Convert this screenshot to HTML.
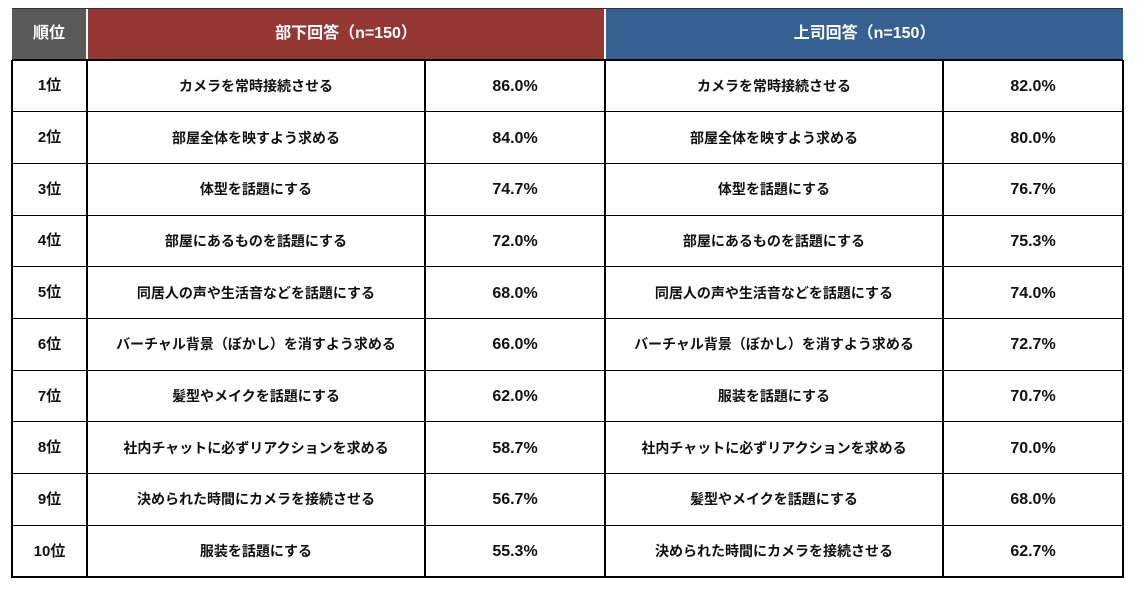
<!DOCTYPE html>
<html><head><meta charset="utf-8"><style>
body{margin:0;width:1138px;height:590px;background:#fff;font-family:"Liberation Sans","Noto Sans CJK JP",sans-serif;font-weight:bold;position:relative;overflow:hidden}
.c{position:absolute;display:flex;align-items:center;justify-content:center;color:#111;font-size:14px;box-sizing:border-box;line-height:1}
.p{font-size:16px;font-family:"Liberation Sans",sans-serif;padding-top:2px}
.r{font-size:15px}
.h{color:#fff;font-size:16px}
.v{position:absolute;background:#000;width:2px}
.hl{position:absolute;background:#000;height:1px;left:12px;width:1111px}
</style></head><body>
<div class="c h" style="left:12px;top:8px;width:74px;height:52px;background:#595959">順位</div>
<div class="c h" style="left:88px;top:8px;width:516px;height:52px;background:#953735">部下回答（n=150）</div>
<div class="c h" style="left:606px;top:8px;width:517px;height:52px;background:#376092">上司回答（n=150）</div>
<div style="position:absolute;left:12px;top:8px;width:1111px;height:1px;background:#333"></div>
<div id="rows"></div>
<script>
var a=[["1位","カメラを常時接続させる","86.0%","カメラを常時接続させる","82.0%"],
["2位","部屋全体を映すよう求める","84.0%","部屋全体を映すよう求める","80.0%"],
["3位","体型を話題にする","74.7%","体型を話題にする","76.7%"],
["4位","部屋にあるものを話題にする","72.0%","部屋にあるものを話題にする","75.3%"],
["5位","同居人の声や生活音などを話題にする","68.0%","同居人の声や生活音などを話題にする","74.0%"],
["6位","バーチャル背景（ぼかし）を消すよう求める","66.0%","バーチャル背景（ぼかし）を消すよう求める","72.7%"],
["7位","髪型やメイクを話題にする","62.0%","服装を話題にする","70.7%"],
["8位","社内チャットに必ずリアクションを求める","58.7%","社内チャットに必ずリアクションを求める","70.0%"],
["9位","決められた時間にカメラを接続させる","56.7%","髪型やメイクを話題にする","68.0%"],
["10位","服装を話題にする","55.3%","決められた時間にカメラを接続させる","62.7%"]];
var xs=[12,87,425,605,943,1123],cls=['c r','c','c p','c','c p'],h='';
for(var i=0;i<10;i++){var t=60+i*51.7;
for(var j=0;j<5;j++)h+='<div class="'+cls[j]+'" style="left:'+xs[j]+'px;top:'+t+'px;width:'+(xs[j+1]-xs[j])+'px;height:51.7px">'+a[i][j]+'</div>';
h+='<div class="hl" style="top:'+(t+51.7-(i==9?1:0.5))+'px;'+(i==9?'height:2px':'')+'"></div>';}
h+='<div class="hl" style="top:59px;height:2px"></div>';
[11,86,424,604,942,1122].forEach(function(x){h+='<div class="v" style="left:'+x+'px;top:60px;height:518px"></div>';});
document.getElementById('rows').innerHTML=h;
</script>
</body></html>
